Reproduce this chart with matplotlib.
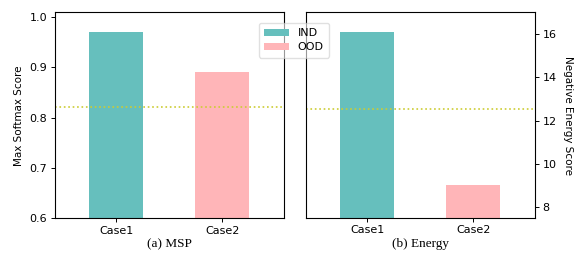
import matplotlib
matplotlib.use("Agg")
import numpy as np
from matplotlib import pyplot as plt

cases = ["Case1", "Case2"]
labels = ["IND", "OOD"]
msp_scores = [0.97, 0.89]
energy_scores = [16.1, 9.0]
msp_threshold = 0.82
energy_threshold = 12.55

colors = ["#66bfbd", "#ffb5b8"]
line_color = "#cccc33"

plt.rcParams["font.size"] = 8
plt.rcParams["axes.linewidth"] = 0.8
plt.rcParams["xtick.major.size"] = 2.8
plt.rcParams["ytick.major.size"] = 2.8
plt.rcParams["xtick.major.width"] = 0.7
plt.rcParams["ytick.major.width"] = 0.7
plt.rcParams["xtick.major.pad"] = 2.5
plt.rcParams["ytick.major.pad"] = 2.5

fig = plt.figure(figsize=(5.75, 2.54), dpi=100)
ax1 = fig.add_axes([0.0948, 0.1406, 0.3986, 0.8110])
ax2 = fig.add_axes([0.5317, 0.1420, 0.3987, 0.8090])

x = np.arange(len(cases))
width = 0.51

# (a) MSP
bars1 = ax1.bar(x, msp_scores, width=width, color=colors)
ax1.axhline(msp_threshold, color=line_color, linestyle=":", linewidth=1.2)
ax1.set_ylim(0.6, 1.009)
ax1.set_xlim(-0.58, 1.58)
ax1.set_xticks(x)
ax1.set_xticklabels(cases)
ax1.set_yticks([0.6, 0.7, 0.8, 0.9, 1.0])
ax1.set_ylabel("Max Softmax Score", fontsize=7.5, labelpad=4)
ax1.set_xlabel("(a) MSP", family="Liberation Serif", fontsize=9.5, labelpad=2)

# (b) Energy
ax2.bar(x, energy_scores, width=width, color=colors)
ax2.axhline(energy_threshold, color=line_color, linestyle=":", linewidth=1.2)
ax2.set_ylim(7.5, 17)
ax2.set_xlim(-0.58, 1.58)
ax2.set_xticks(x)
ax2.set_xticklabels(cases)
ax2.yaxis.tick_right()
ax2.yaxis.set_label_position("right")
ax2.set_yticks([8, 10, 12, 14, 16])
ax2.set_ylabel("Negative Energy Score", fontsize=7.5, rotation=270, labelpad=12)
ax2.set_xlabel("(b) Energy", family="Liberation Serif", fontsize=9.5, labelpad=2)

fig.legend(bars1, labels, loc="upper left", bbox_to_anchor=(0.450, 0.911),
           borderaxespad=0, handlelength=2.2, handleheight=0.6, borderpad=0.5,
           labelspacing=0.35, framealpha=0.6, fontsize=8)

fig.savefig("out.png", dpi=100)
